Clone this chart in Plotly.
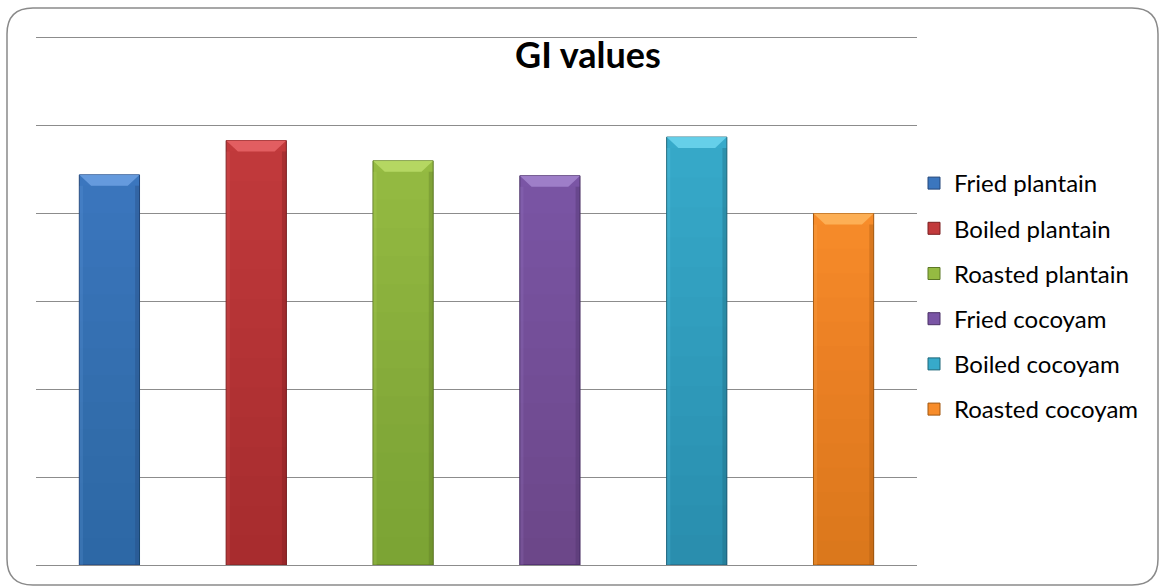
import plotly.graph_objects as go

# GI values per preparation
foods = ["Fried plantain", "Boiled plantain", "Roasted plantain",
         "Fried cocoyam", "Boiled cocoyam", "Roasted cocoyam"]
gi_values = [44.4, 48.3, 46.0, 44.3, 48.7, 40.0]

# colours: body, light bevel, dark edge
body_colors = ["#3B76BE", "#C23A3C", "#95BB42", "#7A55A5", "#37AACA", "#F78C2A"]
light_colors = ["#6A9FE0", "#E66365", "#B8DA66", "#A283CC", "#6AD3EC", "#FDB35A"]
edge_colors = ["#24477A", "#7A1E20", "#5C7826", "#4A3166", "#1E6679", "#A2570F"]

W, H = 1161, 587
Y_MAX = 61                              # headroom so the 60 gridline is drawn
L, R, B = 36, 917, 565                  # plot area in pixels
PX_PER_UNIT = (565 - 38) / 60.0
T = round(B - Y_MAX * PX_PER_UNIT)
BAR_W = 0.41
BEVEL_DX = 0.08                        # horizontal inset of top bevel (x units)
BEVEL_DY = 1.25                        # height of top bevel (y units)
SHADE_STEPS = 14

fig = go.Figure()
shapes = []
for i, (name, v) in enumerate(zip(foods, gi_values)):
    fig.add_trace(go.Bar(
        x=[i], y=[v], name=name, width=BAR_W,
        marker=dict(color=body_colors[i], line=dict(color=edge_colors[i], width=1)),
        legendgroup=name,
    ))
    x0, x1 = i - BAR_W / 2, i + BAR_W / 2
    top = v - BEVEL_DY
    # soft darkening toward the base
    for k in range(1, SHADE_STEPS + 1):
        shapes.append(dict(
            type="rect", xref="x", yref="y", layer="above",
            x0=x0, x1=x1, y0=0, y1=top * k / SHADE_STEPS,
            fillcolor=edge_colors[i], line=dict(width=0), opacity=0.022))
    # lighter top bevel
    shapes.append(dict(
        type="path", xref="x", yref="y", layer="above",
        path=f"M {x0},{v} L {x1},{v} L {x1 - BEVEL_DX},{top} "
             f"L {x0 + BEVEL_DX},{top} Z",
        fillcolor=light_colors[i], line=dict(width=0), opacity=0.9))
    # side edges
    shapes.append(dict(
        type="rect", xref="x", yref="y", layer="above",
        x0=x1 - 0.03, x1=x1, y0=0, y1=top,
        fillcolor=edge_colors[i], line=dict(width=0), opacity=0.35))
    shapes.append(dict(
        type="rect", xref="x", yref="y", layer="above",
        x0=x0, x1=x0 + 0.025, y0=0, y1=top,
        fillcolor=light_colors[i], line=dict(width=0), opacity=0.2))


def px_to_paper(px, py):
    return (px - L) / (R - L), (B - py) / (B - T)


# rounded outer frame
fx0, fy0, fx1, fy1, rad = 7, 8, 1158, 585, 26
pts = {
    "a": px_to_paper(fx0 + rad, fy0), "b": px_to_paper(fx1 - rad, fy0),
    "c": px_to_paper(fx1, fy0), "d": px_to_paper(fx1, fy0 + rad),
    "e": px_to_paper(fx1, fy1 - rad), "f": px_to_paper(fx1, fy1),
    "g": px_to_paper(fx1 - rad, fy1), "h": px_to_paper(fx0 + rad, fy1),
    "i": px_to_paper(fx0, fy1), "j": px_to_paper(fx0, fy1 - rad),
    "k": px_to_paper(fx0, fy0 + rad), "l": px_to_paper(fx0, fy0),
}
p = lambda k: f"{pts[k][0]:.5f},{pts[k][1]:.5f}"
frame_path = (f"M {p('a')} L {p('b')} Q {p('c')} {p('d')} L {p('e')} "
              f"Q {p('f')} {p('g')} L {p('h')} Q {p('i')} {p('j')} "
              f"L {p('k')} Q {p('l')} {p('a')} Z")
shapes.append(dict(type="path", xref="paper", yref="paper", layer="below",
                   path=frame_path, line=dict(color="#8a8a8a", width=1.5)))

fig.update_layout(
    width=W, height=H,
    margin=dict(l=L, r=W - R, t=T, b=H - B),
    paper_bgcolor="white", plot_bgcolor="white",
    barmode="overlay",
    font=dict(family="Lato, Calibri, sans-serif", color="#000000"),
    title=dict(text="<b>GI values</b>", x=588 / W, xref="container", xanchor="center",
               y=1 - 55 / H, yref="container", yanchor="middle",
               font=dict(size=36, family="Lato, Calibri, sans-serif", color="#000000")),
    xaxis=dict(range=[-0.5, 5.5], showticklabels=False, showgrid=False,
               zeroline=False, showline=False, ticks=""),
    yaxis=dict(range=[0, Y_MAX], tickvals=[0, 10, 20, 30, 40, 50, 60],
               showticklabels=False, showgrid=True,
               gridcolor="#8c8c8c", gridwidth=1.3, zeroline=True,
               zerolinecolor="#8c8c8c", zerolinewidth=1.3, showline=False, ticks=""),
    legend=dict(x=(914 - L) / (R - L), xanchor="left",
                y=(B - 161) / (B - T), yanchor="top",
                traceorder="grouped", tracegroupgap=11,
                font=dict(size=24, family="Lato, Calibri, sans-serif", color="#000000"),
                itemwidth=30, bgcolor="rgba(0,0,0,0)"),
    shapes=shapes,
    showlegend=True,
)

fig.write_html("out.html")
